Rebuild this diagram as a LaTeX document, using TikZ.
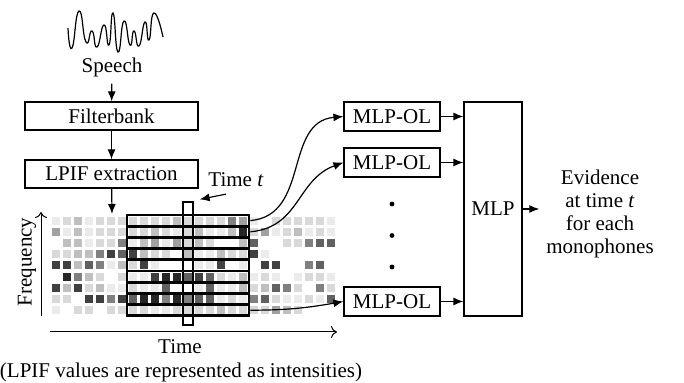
\documentclass[tikz,border=0pt]{standalone}
\usepackage{fontspec}
\setmainfont{Liberation Serif}
\usetikzlibrary{positioning, arrows.meta}

\tikzset{
  block/.style={draw, line width=0.6pt, minimum width=86.5pt, minimum height=14pt, inner sep=0pt},
  olbox/.style={draw, line width=0.6pt, minimum width=48pt, minimum height=14.5pt, inner sep=0pt},
  strip/.style={draw, line width=1.35pt, minimum width=61pt, minimum height=5.6pt, inner sep=0pt},
  timebox/.style={draw, line width=0.6pt, minimum width=5pt, minimum height=61.5pt, inner sep=0pt},
  dot/.style={circle, fill, inner sep=0pt, minimum size=2.4pt},
  flow/.style={-{Latex[length=5pt,width=4pt]}, line width=0.6pt},
  axis/.style={-{To[length=3pt,width=6pt]}, line width=0.5pt},
}
\newcommand{\lbl}{\fontsize{10.5}{11.5}\selectfont}

\begin{document}
\begin{tikzpicture}[x=0.5pt, y=-0.5pt]
  \useasboundingbox (0,0) rectangle (684,383);

  % speech wave
  \draw[line width=0.6pt] plot[smooth, tension=1] coordinates {
    (68,28) (72,48) (79,11) (86,42) (92,31) (97,47) (104,25) (109,45)
    (113,13) (118,52) (124,21) (130,45) (134,31) (139,46) (145,22)
    (149,40) (154,13) (163,37)};

  \node (speech) at (112,67) {\lbl Speech};
  \node (fbank) [block] at (111.5,116) {\lbl Filterbank};
  \node (lpif) [block] at (111.5,174) {\lbl LPIF extraction};
  \coordinate (gtop) at (112,214);

  \draw[flow] (speech) -- (fbank);
  \draw[flow] (fbank) -- (lpif);
  \draw[flow] (lpif) -- (gtop);

  % LPIF values (grey level in percent)
  \foreach \vals [count=\ri from 0] in {
    {8,15,25,8,15,15,15,15,15,15,15,25,15,15,15,15,50,37,8,0,15,15,15,15,15,8},
    {37,8,25,8,15,15,15,15,15,25,15,8,15,25,8,8,25,85,15,37,8,15,25,8,15,8},
    {0,25,25,8,15,15,50,8,25,37,8,37,15,25,15,0,0,25,62,0,0,15,15,50,62,62},
    {15,15,25,25,50,75,62,75,25,15,15,0,25,8,8,25,15,15,75,8,0,0,0,0,0,0},
    {75,75,25,62,50,8,25,15,75,8,0,0,0,8,8,75,0,8,0,75,75,0,0,50,62,0},
    {0,85,50,25,15,0,15,8,8,75,85,85,62,75,62,15,8,25,8,15,8,0,8,15,15,8},
    {75,25,75,15,25,8,8,15,8,8,62,0,0,8,62,8,8,25,15,25,62,50,15,0,50,15},
    {15,15,0,75,75,50,75,62,85,85,50,85,50,62,62,8,15,8,50,62,15,8,8,15,8,62},
    {8,0,15,15,0,15,15,15,15,8,8,15,15,15,15,25,15,15,15,15,37,25,15,0,0,0}}
    \foreach \lv [count=\ci from 0] in \vals
      \fill[black!\lv] (52+11*\ci, 216.6+11.2*\ri) rectangle ++(8,8);

  % window rows
  \foreach \ri in {0,...,8}
    \node (s\ri) [strip] at (188, 220.6+11.2*\ri) {};

  \node (tbox) [timebox] at (188,263.5) {};
  \node (tlabel) at (236,180) {\lbl Time \textit{t}};
  \draw[flow] ([xshift=-5pt]tlabel.south) -- ([shift={(3pt,1pt)}]tbox.north east);

  % axes
  \coordinate (f0) at (41,316);
  \coordinate (f1) at (41,212);
  \coordinate (t0) at (50,332);
  \coordinate (t1) at (337,332);
  \draw[axis] (f0) -- (f1);
  \draw[axis] (t0) -- (t1);
  \node (freq) [rotate=90] at (27,262) {\lbl Frequency};
  \node (time) at (180,347) {\lbl Time};
  \node (note) at (181,372) {\lbl (LPIF values are represented as intensities)};

  % MLPs
  \node (ol1) [olbox] at (392,116.5) {\lbl MLP-OL};
  \node (ol2) [olbox] at (392,162.5) {\lbl MLP-OL};
  \node (ol3) [olbox] at (392,301.5) {\lbl MLP-OL};
  \node (d1) [dot] at (392,204) {};
  \node (d2) [dot] at (392,235.5) {};
  \node (d3) [dot] at (392,267) {};
  \node (mlp) [draw, line width=0.6pt, minimum width=29pt, minimum height=107pt,
    inner sep=0pt] at (493,209) {\lbl MLP};
  \node (evid) [align=center, font=\lbl] at (600,214) {Evidence\\at time \textit{t}\\for each\\monophones};

  \draw[flow] (s0.east) to[out=5, in=185, looseness=1.1] (ol1.west);
  \draw[flow] (s1.east) to[out=5, in=200, looseness=1.1] (ol2.west);
  \draw[flow] (s8.east) to[out=0, in=190] (ol3.west);
  \draw[flow] (ol1) -- (ol1 -| mlp.west);
  \draw[flow] (ol2) -- (ol2 -| mlp.west);
  \draw[flow] (ol3) -- (ol3 -| mlp.west);
  \draw[flow] (mlp.east) -- (evid.west |- mlp.east);
\end{tikzpicture}
\end{document}
